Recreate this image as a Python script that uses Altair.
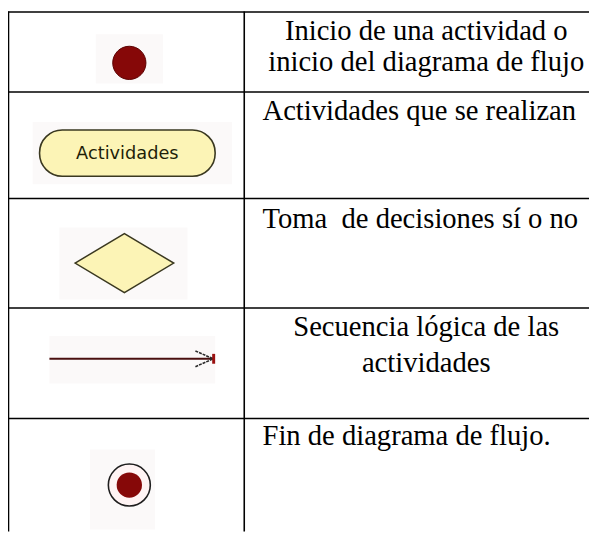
import altair as alt
import pandas as pd

# ---- content (data) ----
symbols = ["Inicio", "Actividad", "Decisión", "Flujo", "Fin"]
descriptions = [
    ["Inicio de una actividad o", "inicio del diagrama de flujo"],
    ["Actividades que se realizan"],
    ["Toma\u00a0 de decisiones sí o no"],
    ["Secuencia lógica de las", "actividades"],
    ["Fin de diagrama de flujo."],
]
activity_label = "Actividades"

# ---- layout (page pixels) ----
W, H = 589, 527
X0, Y0 = 8, 8
row_edges = [8.5, 89.5, 197.5, 308.5, 420.5, 535]
col_edges = [8.5, 247.5, 597]
text_align = ["center", "left", "left", "center", "left"]
text_baselines = [[37, 68], [118], [227], [337, 373], [447]]
text_x = {"center": 432, "left": 266}

xscale = alt.Scale(domain=[X0, X0 + W], nice=False, zero=False)
yscale = alt.Scale(domain=[Y0, Y0 + H], nice=False, zero=False, reverse=True)


def X(f):
    return alt.X(f, type="quantitative", scale=xscale, axis=None)


def Y(f):
    return alt.Y(f, type="quantitative", scale=yscale, axis=None)


# table lines
hlines = pd.DataFrame({"y": row_edges[:-1], "x": col_edges[0] - 0.5, "x2": col_edges[-1]})
vlines = pd.DataFrame({"x": col_edges[:-1], "y": row_edges[0] - 0.5, "y2": row_edges[-1]})

h_layer = alt.Chart(hlines).mark_rule(color="#000000", strokeWidth=1.6).encode(
    x=X("x"), x2="x2", y=Y("y"))
v_layer = alt.Chart(vlines).mark_rule(color="#000000", strokeWidth=1.6).encode(
    x=X("x"), y=Y("y"), y2="y2")

# faint backgrounds behind the symbol pictures
patches = pd.DataFrame({
    "sym": symbols,
    "x": [97, 33, 60, 50, 91],
    "x2": [165, 235, 190, 218, 157],
    "y": [31, 120, 227, 337, 452],
    "y2": [81, 183, 300, 385, 533],
})
patch_layer = alt.Chart(patches).mark_rect(color="#fbf9f9").encode(
    x=X("x"), x2="x2", y=Y("y"), y2="y2")

# 1. initial node
start = pd.DataFrame({"sym": [symbols[0]], "x": [131], "y": [60]})
start_layer = alt.Chart(start).mark_point(
    shape="circle", filled=True, size=1134, color="#860808", opacity=1,
    stroke="#5a0000", strokeWidth=1).encode(x=X("x"), y=Y("y"))

# 2. activity (pill)
act = pd.DataFrame({"sym": [symbols[1]], "x": [40], "x2": [218], "y": [128], "y2": [175],
                    "cx": [129], "cy": [152], "label": [activity_label]})
act_rect = alt.Chart(act).mark_rect(
    fill="#fcf4b6", stroke="#3a3820", strokeWidth=1.6, cornerRadius=23).encode(
    x=X("x"), x2="x2", y=Y("y"), y2="y2")
act_text = alt.Chart(act).mark_text(
    font="DejaVu Sans", fontSize=18, color="#1e1e08", baseline="middle", align="center").encode(
    x=X("cx"), y=Y("cy"), text="label:N")

# 3. decision (diamond)
dec = pd.DataFrame({"sym": [symbols[2]], "x": [126], "y": [263]})
dec_layer = alt.Chart(dec).mark_point(
    shape="M -1 0 L 0 -0.6 L 1 0 L 0 0.6 Z", filled=True, size=10000,
    fill="#fcf4b6", stroke="#3a3820", strokeWidth=1.5, opacity=1).encode(
    x=X("x"), y=Y("y"))

# 4. control flow (arrow)
flow = pd.DataFrame({"sym": [symbols[3]], "x": [50], "x2": [216], "y": [360]})
flow_line = alt.Chart(flow).mark_rule(color="#4a1010", strokeWidth=2).encode(
    x=X("x"), x2="x2", y=Y("y"))
heads = pd.DataFrame({"x": [198, 198], "y": [352, 368], "x2": [216, 216], "y2": [360, 360]})
head_layer = alt.Chart(heads).mark_rule(color="#2a2a2a", strokeWidth=1.6, strokeDash=[3, 1]).encode(
    x=X("x"), y=Y("y"), x2="x2", y2="y2")
tick = pd.DataFrame({"x": [216.5], "y": [355], "y2": [365]})
tick_layer = alt.Chart(tick).mark_rule(color="#9a1010", strokeWidth=3).encode(
    x=X("x"), y=Y("y"), y2="y2")

# 5. final node
fin = pd.DataFrame({"sym": [symbols[4]], "x": [131], "y": [488]})
fin_outer = alt.Chart(fin).mark_point(
    shape="circle", filled=True, size=1810, fill="#fff4f4", stroke="#1e1e1e",
    strokeWidth=1.6, opacity=1).encode(x=X("x"), y=Y("y"))
fin_inner = alt.Chart(fin).mark_point(
    shape="circle", filled=True, size=660, color="#860808", opacity=1).encode(
    x=X("x"), y=Y("y"))

# description texts
rows = []
for i, lines in enumerate(descriptions):
    for j, line in enumerate(lines):
        rows.append({"row": i, "text": line, "align": text_align[i],
                     "x": text_x[text_align[i]], "y": text_baselines[i][j]})
texts = pd.DataFrame(rows)

text_center = alt.Chart(texts[texts["align"] == "center"]).mark_text(
    font="Liberation Serif", fontSize=29, color="#000000", align="center", baseline="alphabetic").encode(
    x=X("x"), y=Y("y"), text="text:N")
text_left = alt.Chart(texts[texts["align"] == "left"]).mark_text(
    font="Liberation Serif", fontSize=29, color="#000000", align="left", baseline="alphabetic").encode(
    x=X("x"), y=Y("y"), text="text:N")

chart = alt.layer(
    patch_layer, h_layer, v_layer,
    start_layer, act_rect, act_text, dec_layer,
    flow_line, head_layer, tick_layer, fin_outer, fin_inner,
    text_center, text_left,
).properties(
    width=W, height=H, padding=0, autosize=alt.AutoSizeParams(type="none"),
    background="#ffffff",
).configure_view(stroke=None)

chart.save("out.html", embed_options={"renderer": "svg", "actions": False})
